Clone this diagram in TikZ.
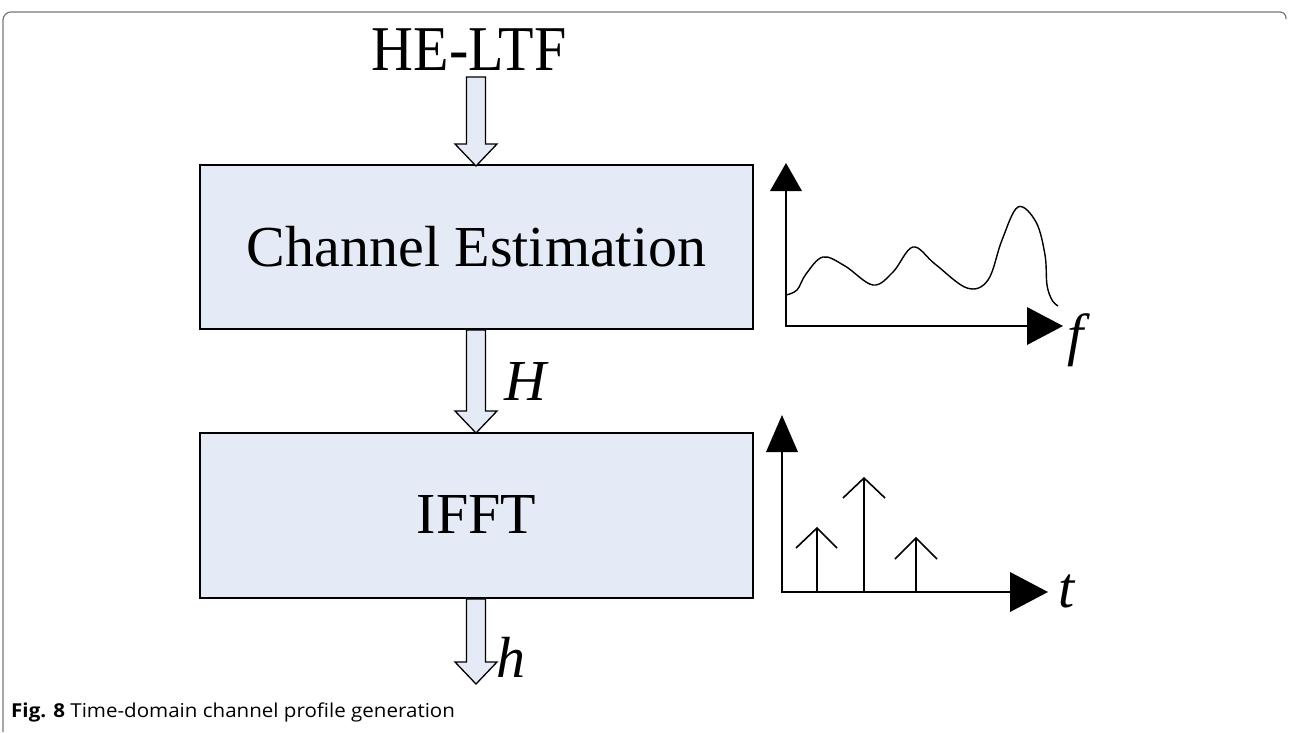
\documentclass[tikz,border=0pt]{standalone}
\usepackage{fontspec}
\setmainfont{Liberation Serif}
\newfontfamily\capfont{Open Sans}
\definecolor{boxblue}{RGB}{228,235,246}
\definecolor{framegray}{RGB}{120,120,120}
\begin{document}
\begin{tikzpicture}[x=1pt,y=-1pt,
  blockbox/.style={draw=black,line width=2.6pt,fill=boxblue},
  blockarrow/.style={draw=black,line width=1.3pt,fill=boxblue,line join=miter},
  axisline/.style={draw=black,line width=2pt},
  tiphead/.style={fill=black},
  bigtext/.style={font=\fontsize{58}{60}\selectfont,inner sep=0pt},
  lbl/.style={font=\fontsize{58}{60}\selectfont\itshape,inner sep=0pt},
  thinline/.style={draw=black,line width=1.6pt}]
\useasboundingbox (0,0) rectangle (1291,732);
% frame
\draw[framegray,line width=1.2pt] (3,732) -- (3,20) arc[start angle=180,end angle=270,radius=8] -- (1280,12) arc[start angle=270,end angle=360,radius=6] -- (1286,19);
% boxes
\path[blockbox] (200,165) rectangle (753,329);
\node[bigtext] (ce) at (476.5,247) {Channel Estimation};
\path[blockbox] (200,433) rectangle (753,598);
\node[bigtext] (ifft) at (476.5,515) {IFFT};
\node[bigtext,yscale=1.1] (heltf) at (469,50) {HE-LTF};
% block arrows
\newcommand{\blockarr}[3]{% x center, top y, tip y
  \path[blockarrow] (#1-9.5,#2) -- (#1-9.5,#3-22) -- (#1-21,#3-22) -- (#1,#3) -- (#1+21,#3-22) -- (#1+9.5,#3-22) -- (#1+9.5,#2) -- cycle;}
\blockarr{476}{77}{166}
\blockarr{476}{330}{433}
\blockarr{476}{599}{684}
\node[lbl] (H) at (525,382) {H};
\node[lbl,anchor=base west] (h) at (496,677) {h};
% chart 1
\draw[axisline] (786,186) -- (786,326) -- (1030,326);
\path[tiphead] (786,163) -- (802,191) -- (770,191) -- cycle;
\path[tiphead] (1063,326) -- (1027,307) -- (1027,345) -- cycle;
\draw[black,line width=1.4pt] plot[smooth,tension=0.6] coordinates {(786,295) (797,290) (806,274) (823,257) (845,266) (873,285) (893,272) (913,247) (935,264) (967,288) (988,280) (1002,240) (1018,207) (1036,222) (1045,255) (1047,285) (1052,300) (1058,306)};
\node[lbl,anchor=base west] (f) at (1067,354) {f};
% chart 2
\draw[axisline] (782,445) -- (782,592) -- (1015,592);
\path[tiphead] (782,415) -- (798,452) -- (766,452) -- cycle;
\path[tiphead] (1048,592) -- (1010,572) -- (1010,612) -- cycle;
\draw[thinline] (817,592) -- (817,528) (796,548) -- (817,528) -- (837,548);
\draw[thinline] (864,592) -- (864,478) (843,498) -- (864,478) -- (885,498);
\draw[thinline] (916,592) -- (916,538) (895,559) -- (916,538) -- (937,559);
\node[lbl,anchor=base west] (t) at (1058,607) {t};
% caption
\node[anchor=base west,inner sep=0pt,xscale=1.07,font=\capfont\fontsize{19.2}{22}\selectfont] (cap) at (11,717) {\textbf{Fig. 8} Time-domain channel profile generation};
\end{tikzpicture}
\end{document}
